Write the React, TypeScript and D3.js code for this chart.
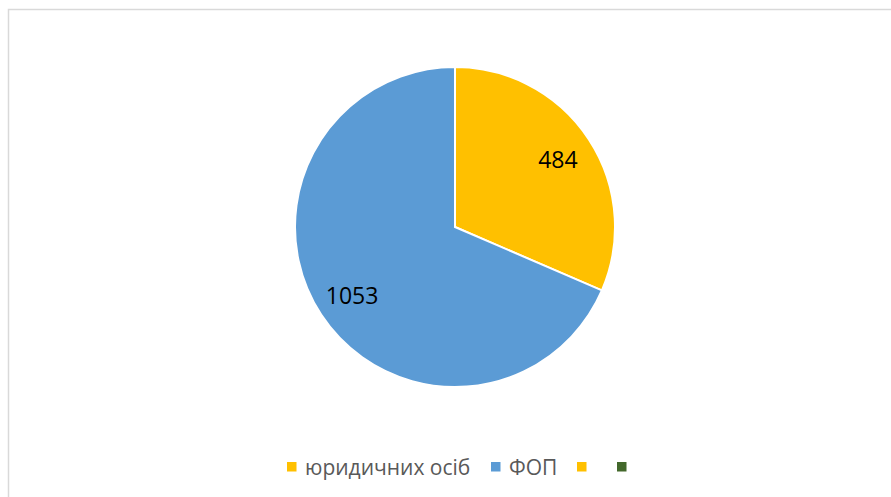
import React from "react";
import * as d3 from "d3";

const categories = ["юридичних осіб", "ФОП", "", ""];
const values = [484, 1053, 0, 0];
const colors = ["#FFC000", "#5B9BD5", "#FFC000", "#43682B"];

export default function App() {
  const W = 891, H = 497;
  const cx = 455, cy = 227, r = 160;
  const data = categories.map((c, i) => ({ c, v: values[i], col: colors[i] }));
  const pie = d3.pie<any>().value((d) => d.v).sort(null);
  const arcs = pie(data).filter((a) => a.data.v > 0);
  const arc = d3.arc<any>().innerRadius(0).outerRadius(r);
  const labelArc = d3.arc<any>().innerRadius(r * 0.77).outerRadius(r * 0.77);
  const legendX = [287, 491, 577, 617];
  return (
    <svg width={W} height={H} style={{ position: "absolute", left: 0, top: 0 }}>
      <rect x={0} y={0} width={W} height={H} fill="#fff" />
      <path d={`M8.5,${H} L8.5,9.5 L${W},9.5`} fill="none" stroke="#d9d9d9" strokeWidth={1.5} />
      <g transform={`translate(${cx},${cy})`}>
        {arcs.map((a, i) => (
          <path key={i} d={arc(a) as string} fill={a.data.col} stroke="#fff" strokeWidth={2} />
        ))}
        {arcs.map((a, i) => {
          const [x, y] = labelArc.centroid(a);
          return (
            <text key={i} x={x} y={y} textAnchor="middle" dominantBaseline="central"
              fontFamily="'Open Sans', sans-serif" fontSize={23} fill="#000">
              {a.data.v}
            </text>
          );
        })}
      </g>
      <g fontFamily="'Open Sans', sans-serif" fontSize={21} fill="#595959">
        {data.map((d, i) => (
          <g key={i}>
            <rect x={legendX[i]} y={462} width={9.5} height={9.5} fill={d.col} />
            {d.c && (
              <text x={legendX[i] + 18} y={467} dominantBaseline="central">{d.c}</text>
            )}
          </g>
        ))}
      </g>
    </svg>
  );
}
